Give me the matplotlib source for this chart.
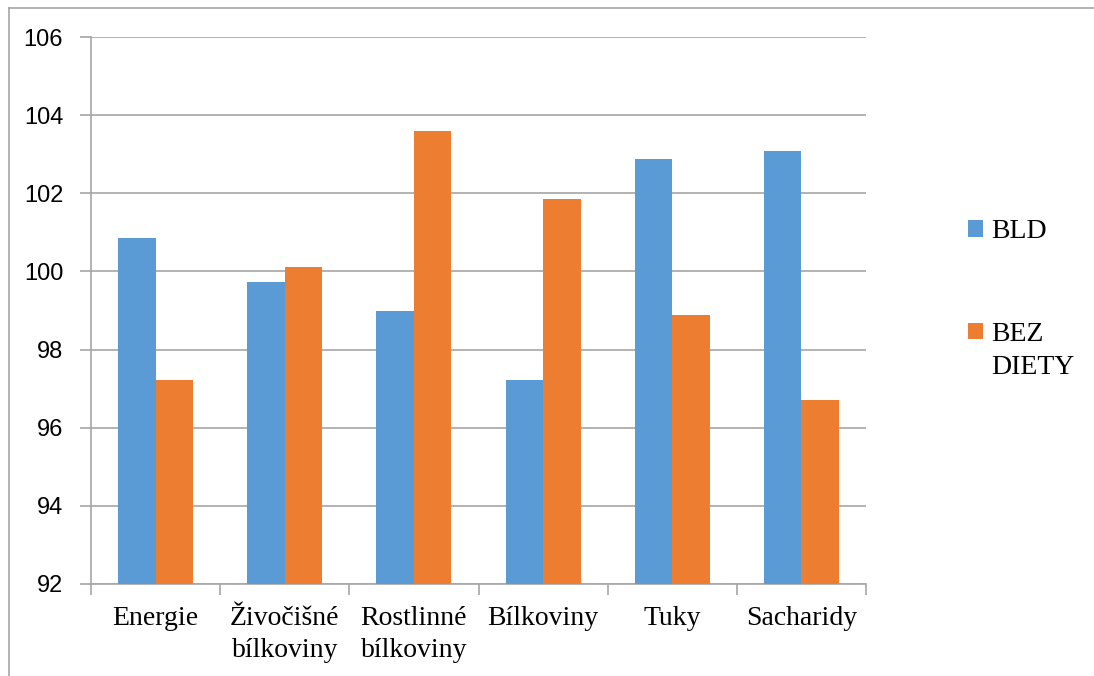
import matplotlib
matplotlib.use("Agg")
import matplotlib.pyplot as plt
from matplotlib.lines import Line2D
import numpy as np

# data
categories = ["Energie", "Živočišné\nbílkoviny", "Rostlinné\nbílkoviny",
              "Bílkoviny", "Tuky", "Sacharidy"]
bld = [100.86, 99.72, 99.00, 97.22, 102.88, 103.07]
bez_diety = [97.22, 100.12, 103.60, 101.85, 98.88, 96.71]
y_ticks = [92, 94, 96, 98, 100, 102, 104, 106]

blue = "#5B9BD5"
orange = "#ED7D31"
grey = "#A6A6A6"

fig = plt.figure(figsize=(10.94, 6.76), dpi=100)
ax = fig.add_axes([91/1094, 1-584/676, (866-91)/1094, (584-37)/676])

x = np.arange(len(categories))
w = 0.29
ax.bar(x - w/2, bld, w, color=blue, label="BLD", zorder=3)
ax.bar(x + w/2, bez_diety, w, color=orange, label="BEZ", zorder=3)

ax.set_ylim(92, 106)
ax.set_xlim(-0.5, len(categories) - 0.5)
ax.set_yticks(y_ticks)
ax.set_yticklabels([str(v) for v in y_ticks], family="Liberation Sans", fontsize=17)
ax.yaxis.grid(True, color=grey, linewidth=1.2, zorder=0)
ax.tick_params(axis="y", length=8, color=grey, width=1.2, pad=12)

ax.set_xticks(x)
ax.set_xticklabels(categories, family="Liberation Serif", fontsize=20, linespacing=1.35)
ax.set_xticks(np.arange(-0.5, len(categories)), minor=True)
ax.tick_params(axis="x", which="major", length=0, pad=16)
ax.tick_params(axis="x", which="minor", length=8, color=grey, width=1.2)

for s in ["top", "right"]:
    ax.spines[s].set_visible(False)
for s in ["left", "bottom"]:
    ax.spines[s].set_color(grey)
    ax.spines[s].set_linewidth(1.2)

leg = ax.legend(loc="upper left", bbox_to_anchor=(968/1094, 1-219/676),
                bbox_transform=fig.transFigure, frameon=False, borderpad=0,
                borderaxespad=0,
                prop={"family": "Liberation Serif", "size": 20},
                handlelength=0.55, handleheight=0.55, handletextpad=0.3,
                labelspacing=2.8)
# second line of the orange label, under "BEZ"
bez_text = leg.get_texts()[1]
ax.annotate("DIETY", xy=(0, 0), xycoords=bez_text, xytext=(0, -33),
            textcoords="offset pixels", va="bottom", ha="left",
            family="Liberation Serif", fontsize=20, annotation_clip=False,
            zorder=10)

# outer chart border (top and left visible)
fig.add_artist(Line2D([9/1094, 1], [1-8/676, 1-8/676], color=grey, linewidth=1.2,
                      transform=fig.transFigure))
fig.add_artist(Line2D([9/1094, 9/1094], [0, 1-8/676], color=grey, linewidth=1.2,
                      transform=fig.transFigure))

fig.savefig("out.png", dpi=100)
